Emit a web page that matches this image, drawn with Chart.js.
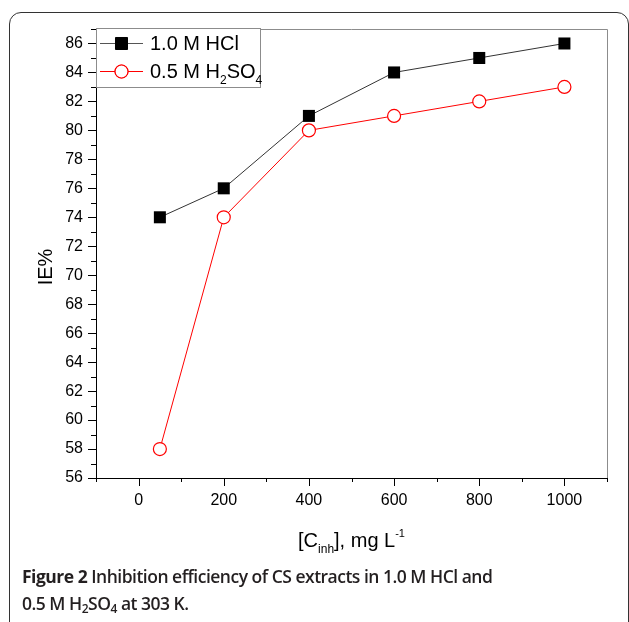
<!DOCTYPE html>
<html>
<head>
<meta charset="utf-8">
<script src="https://cdn.jsdelivr.net/npm/chart.js@4.4.1/dist/chart.umd.min.js"></script>
<style>
  html, body { margin: 0; padding: 0; background: #fff; }
  body { width: 629px; height: 622px; position: relative; overflow: hidden; }
  #frame {
    position: absolute; left: 9px; top: 12px; width: 620px; height: 700px;
    box-sizing: border-box; border: 1.5px solid #333; border-radius: 12px;
  }
  #plot { position: absolute; left: 0; top: 0; }
  #caption {
    position: absolute; left: 22px; top: 563px; width: 600px;
    font-family: "Open Sans", sans-serif; font-size: 17.5px; line-height: 27px;
    letter-spacing: -0.5px; color: #231f20; font-weight: 600;
  }
  #caption b { font-weight: 700; }
  #caption sub { font-size: 12px; vertical-align: -3px; line-height: 0; }
</style>
</head>
<body>
<div id="frame"></div>
<canvas id="plot" width="629" height="622"></canvas>
<div id="caption"><b>Figure 2</b> Inhibition efficiency of CS extracts in 1.0 M HCl and<br>0.5 M H<sub>2</sub>SO<sub>4</sub> at 303 K.</div>
<script>
// data
const concentrations = [50, 200, 400, 600, 800, 1000];
const ieHCl = [74, 76, 81, 84, 85, 86];
const ieH2SO4 = [58, 74, 80, 81, 82, 83];
const xTickLabels = [0, 200, 400, 600, 800, 1000];
const yTickLabels = [56, 58, 60, 62, 64, 66, 68, 70, 72, 74, 76, 78, 80, 82, 84, 86];

const FONT = "'Liberation Sans', Arial, sans-serif";

function toPoints(ys) {
    return concentrations.map((c, i) => ({ x: c, y: ys[i] }));
}

// ticks with major/minor lengths, grey frame on top and right
const axisDecor = {
    id: "axisDecor",
    afterDraw(chart) {
        const ctx = chart.ctx;
        const xs = chart.scales.x;
        const ys = chart.scales.y;
        const a = chart.chartArea;
        ctx.save();
        ctx.strokeStyle = "#8c8c8c";
        ctx.lineWidth = 1;
        ctx.beginPath();
        ctx.moveTo(a.left, a.top + 0.5);
        ctx.lineTo(a.right + 0.5, a.top + 0.5);
        ctx.lineTo(a.right + 0.5, a.bottom);
        ctx.stroke();

        ctx.strokeStyle = "#000";
        ctx.beginPath();
        xs.ticks.forEach(t => {
            const px = Math.round(xs.getPixelForValue(t.value)) + 0.5;
            const len = xTickLabels.includes(t.value) ? 8 : 4;
            ctx.moveTo(px, a.bottom);
            ctx.lineTo(px, a.bottom + len);
        });
        ys.ticks.forEach(t => {
            const py = Math.round(ys.getPixelForValue(t.value)) + 0.5;
            const len = yTickLabels.includes(t.value) ? 8 : 5;
            ctx.moveTo(a.left, py);
            ctx.lineTo(a.left - len, py);
        });
        ctx.stroke();

        // legend box
        const lx = a.left, ly = a.top - 1;
        ctx.fillStyle = "#fff";
        ctx.fillRect(lx + 1, ly + 1, 163, 58);
        ctx.strokeStyle = "#8c8c8c";
        ctx.strokeRect(lx + 0.5, ly + 0.5, 164, 59);

        const rows = [
            { y: ly + 15, line: "#555", ds: chart.data.datasets[0] },
            { y: ly + 43, line: "#ff0000", ds: chart.data.datasets[1] }
        ];
        rows.forEach(r => {
            ctx.strokeStyle = r.line;
            ctx.lineWidth = 1;
            ctx.beginPath();
            ctx.moveTo(lx + 4, r.y + 0.5);
            ctx.lineTo(lx + 47, r.y + 0.5);
            ctx.stroke();
            Chart.helpers.drawPoint(ctx, {
                pointStyle: r.ds.pointStyle,
                radius: r.ds.pointRadius,
                borderWidth: r.ds.pointBorderWidth,
                rotation: 0
            }, lx + 25.5, r.y + 0.5);
            ctx.fillStyle = r.ds.pointBackgroundColor;
            ctx.strokeStyle = r.ds.pointBorderColor;
            ctx.lineWidth = r.ds.pointBorderWidth;
            ctx.fill();
            ctx.stroke();
        });

        ctx.fillStyle = "#000";
        ctx.textBaseline = "alphabetic";
        ctx.textAlign = "left";
        drawRich(ctx, [["1.0 M HCl", 20, 0]], lx + 54, rows[0].y + 7);
        drawRich(ctx, [["0.5 M H", 20, 0], ["2", 12, 6], ["SO", 20, 0], ["4", 12, 6]], lx + 54, rows[1].y + 7);

        // axis titles
        const xt = [["[C", 20, 0], ["inh", 12, 6], ["], mg L", 20, 0], ["-1", 11, -10]];
        const w = richWidth(ctx, xt);
        drawRich(ctx, xt, (a.left + a.right) / 2 - w / 2, 547);

        ctx.save();
        ctx.translate(52, a.top + 238);
        ctx.rotate(-Math.PI / 2);
        ctx.textAlign = "center";
        ctx.font = "20px " + FONT;
        ctx.fillText("IE%", 0, 0);
        ctx.restore();
        ctx.restore();
    }
};

function richWidth(ctx, parts) {
    let w = 0;
    parts.forEach(p => { ctx.font = p[1] + "px " + FONT; w += ctx.measureText(p[0]).width; });
    return w;
}

function drawRich(ctx, parts, x, y) {
    parts.forEach(p => {
        ctx.font = p[1] + "px " + FONT;
        ctx.fillText(p[0], x, y + p[2]);
        x += ctx.measureText(p[0]).width;
    });
}

new Chart(document.getElementById("plot"), {
    type: "scatter",
    data: {
        datasets: [
            {
                label: "1.0 M HCl",
                data: toPoints(ieHCl),
                showLine: true,
                borderColor: "#333",
                borderWidth: 1,
                pointStyle: "rect",
                pointRadius: 8.5,
                pointBackgroundColor: "#000",
                pointBorderColor: "#000",
                pointBorderWidth: 0,
                tension: 0
            },
            {
                label: "0.5 M H2SO4",
                data: toPoints(ieH2SO4),
                showLine: true,
                borderColor: "#ff0000",
                borderWidth: 1,
                pointStyle: "circle",
                pointRadius: 6.5,
                pointBackgroundColor: "#fff",
                pointBorderColor: "#ff0000",
                pointBorderWidth: 1.2,
                tension: 0
            }
        ]
    },
    options: {
        responsive: false,
        animation: false,
        devicePixelRatio: 1,
        layout: { padding: { left: 0, top: 29, right: 22, bottom: 0 } },
        plugins: { legend: { display: false }, tooltip: { enabled: false } },
        scales: {
            x: {
                type: "linear",
                min: -100,
                max: 1100,
                afterFit: s => { s.height = 144; },
                ticks: {
                    stepSize: 100,
                    autoSkip: false,
                    maxRotation: 0,
                    padding: 13,
                    color: "#000",
                    font: { family: FONT, size: 16 },
                    callback: v => xTickLabels.includes(v) ? String(v) : ""
                },
                grid: { drawOnChartArea: false, drawTicks: false },
                border: { color: "#000", width: 1 }
            },
            y: {
                min: 56,
                max: 87,
                afterFit: s => { s.width = 96; },
                ticks: {
                    stepSize: 1,
                    autoSkip: false,
                    padding: 13,
                    color: "#000",
                    font: { family: FONT, size: 16 },
                    callback: v => yTickLabels.includes(v) ? String(v) : ""
                },
                grid: { drawOnChartArea: false, drawTicks: false },
                border: { color: "#000", width: 1 }
            }
        }
    },
    plugins: [axisDecor]
});
</script>
</body>
</html>
